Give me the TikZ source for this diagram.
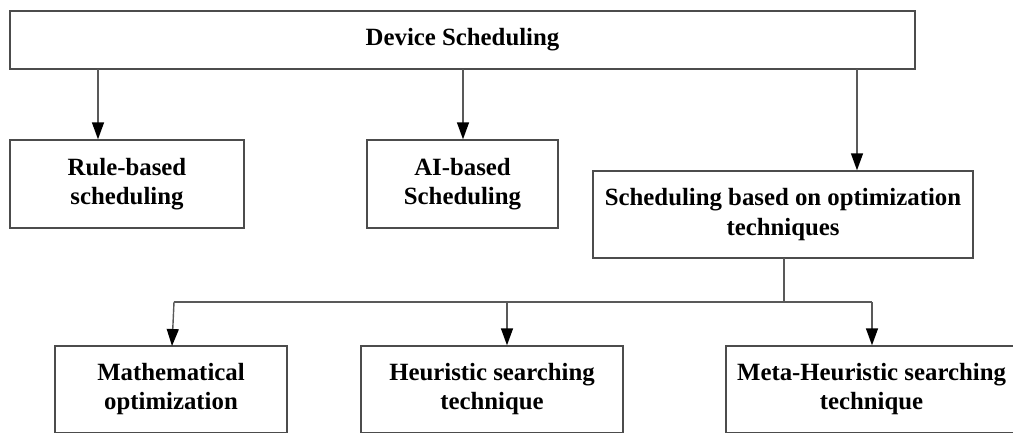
\documentclass[tikz,border=0pt]{standalone}
\usepackage{fontspec}
\setmainfont{Liberation Serif}
\usetikzlibrary{arrows.meta}
\tikzset{
  box/.style={draw=black!70, line width=1.4pt, fill=white, align=center,
    inner sep=0pt, font=\fontsize{24.8}{29.5}\selectfont\bfseries},
  link/.style={draw=black!65, line width=1.4pt},
  arr/.style={link, -{Triangle[length=17pt,width=12pt,fill=black,color=black]}}
}
\begin{document}
\begin{tikzpicture}[x=1pt,y=-1pt]
\useasboundingbox (0,0) rectangle (1013,432);
\clip (0,0) rectangle (1013,432);

% root
\node[box, minimum width=905pt, minimum height=58pt] (root) at (462.5,40) {Device Scheduling};

% second level
\node[box, minimum width=234pt, minimum height=88pt] (rule) at (127,184) {Rule-based\\scheduling};
\node[box, minimum width=191pt, minimum height=88pt] (ai) at (462.5,184) {AI-based\\Scheduling};
\node[box, minimum width=380pt, minimum height=87pt] (opt) at (783,214.5) {Scheduling based on optimization\\techniques};

% third level
\node[box, minimum width=232pt, minimum height=86.5pt] (math) at (171,389.25) {Mathematical\\optimization};
\node[box, minimum width=262pt, minimum height=86.5pt] (heur) at (492,389.25) {Heuristic searching\\technique};
\node[box, minimum width=291pt, minimum height=86.5pt] (meta) at (871.5,389.25) {Meta-Heuristic searching\\technique};

% connector points on the root box
\coordinate (r1) at (98,69);
\coordinate (r2) at (463,69);
\coordinate (r3) at (857,69);
\draw[arr] (r1) -- (r1 |- rule.north);
\draw[arr] (r2) -- (r2 |- ai.north);
\draw[arr] (r3) -- (r3 |- opt.north);

% branching below the optimization box
\coordinate (o1) at (784,258);
\coordinate (j) at (784,302);
\coordinate (bl) at (174,302);
\coordinate (bm) at (507,302);
\coordinate (br) at (872,302);
\draw[link] (o1) -- (j);
\draw[link] (bl) -- (br);
\draw[arr] (bl) -- (172,346);
\draw[arr] (bm) -- (bm |- heur.north);
\draw[arr] (br) -- (br |- meta.north);
\end{tikzpicture}
\end{document}
